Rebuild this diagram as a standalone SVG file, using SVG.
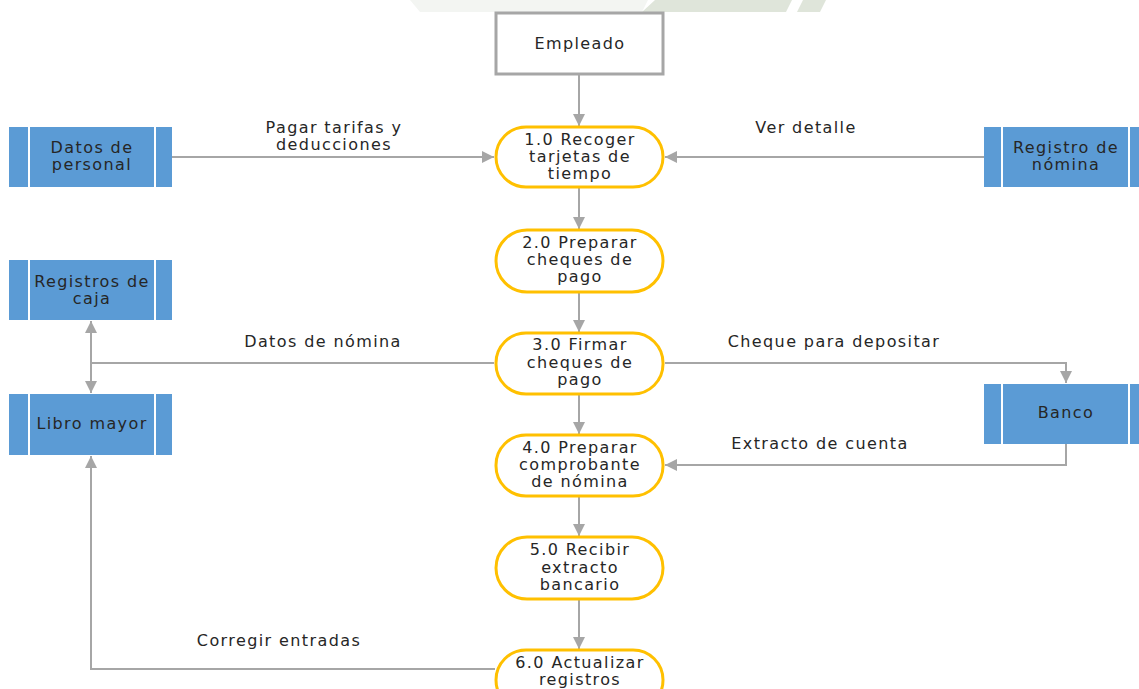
<svg xmlns="http://www.w3.org/2000/svg" width="1139" height="689" viewBox="0 0 1139 689">
<style>
text{font-family:"DejaVu Sans","Verdana",sans-serif;font-size:16px;fill:#262626;text-anchor:middle;letter-spacing:1.4px}
.ds{fill:#5B9BD5}
.sep{stroke:#ffffff;stroke-width:2}
.proc{fill:#ffffff;stroke:#FFC000;stroke-width:3}
.ext{fill:#ffffff;stroke:#A6A6A6;stroke-width:3}
.cn{fill:none;stroke:#A6A6A6;stroke-width:2}
</style>
<defs>
<marker id="ah" viewBox="0 0 10 10" refX="10" refY="5" markerWidth="12" markerHeight="12" markerUnits="userSpaceOnUse" orient="auto-start-reverse">
<path d="M0,0 L10,5 L0,10 z" fill="#A6A6A6"/>
</marker>
</defs>
<rect width="1139" height="689" fill="#ffffff"/>
<g id="watermark">
<polygon points="410,0 648,0 642,12 420,12" fill="#f3f5f2"/>
<polygon points="655,0 826,0 820,12 642,12" fill="#dfe5da"/>
<polygon points="792,0 803,0 797,12 786,12" fill="#ffffff"/>
</g>
<g id="connectors">
<line class="cn" x1="579" y1="74" x2="579" y2="126" marker-end="url(#ah)"/>
<line class="cn" x1="172" y1="157" x2="494" y2="157" marker-end="url(#ah)"/>
<line class="cn" x1="984" y1="157" x2="665" y2="157" marker-end="url(#ah)"/>
<line class="cn" x1="579" y1="188" x2="579" y2="229" marker-end="url(#ah)"/>
<line class="cn" x1="579" y1="293" x2="579" y2="332" marker-end="url(#ah)"/>
<line class="cn" x1="579" y1="395" x2="579" y2="434" marker-end="url(#ah)"/>
<line class="cn" x1="579" y1="497" x2="579" y2="536" marker-end="url(#ah)"/>
<line class="cn" x1="579" y1="600" x2="579" y2="649" marker-end="url(#ah)"/>
<line class="cn" x1="91" y1="321" x2="91" y2="393" marker-start="url(#ah)" marker-end="url(#ah)"/>
<line class="cn" x1="494" y1="363" x2="91" y2="363"/>
<polyline class="cn" points="665,363 1066,363 1066,383" marker-end="url(#ah)"/>
<polyline class="cn" points="1066,444 1066,465 665,465" marker-end="url(#ah)"/>
<polyline class="cn" points="495,669 91,669 91,456" marker-end="url(#ah)"/>
<text x="334" y="133">Pagar tarifas y</text>
<text x="334" y="150">deducciones</text>
<text x="806" y="133">Ver detalle</text>
<text x="323" y="347">Datos de nómina</text>
<text x="834" y="347">Cheque para depositar</text>
<text x="820" y="449">Extracto de cuenta</text>
<text x="279" y="646">Corregir entradas</text>
</g>
<g id="empleado">
<rect class="ext" x="496" y="13" width="167" height="61"/>
<text x="580" y="49">Empleado</text>
</g>
<g id="p1">
<rect class="proc" x="496" y="127" width="167" height="60" rx="30"/>
<text x="580" y="145">1.0 Recoger</text>
<text x="580" y="162">tarjetas de</text>
<text x="580" y="179">tiempo</text>
</g>
<g id="p2">
<rect class="proc" x="496" y="230" width="167" height="62" rx="31"/>
<text x="580" y="248">2.0 Preparar</text>
<text x="580" y="265">cheques de</text>
<text x="580" y="282">pago</text>
</g>
<g id="p3">
<rect class="proc" x="496" y="333" width="167" height="61" rx="30"/>
<text x="580" y="350">3.0 Firmar</text>
<text x="580" y="368">cheques de</text>
<text x="580" y="385">pago</text>
</g>
<g id="p4">
<rect class="proc" x="496" y="435" width="167" height="61" rx="30"/>
<text x="580" y="453">4.0 Preparar</text>
<text x="580" y="470">comprobante</text>
<text x="580" y="487">de nómina</text>
</g>
<g id="p5">
<rect class="proc" x="496" y="537" width="167" height="62" rx="31"/>
<text x="580" y="555">5.0 Recibir</text>
<text x="580" y="573">extracto</text>
<text x="580" y="590">bancario</text>
</g>
<g id="p6">
<rect class="proc" x="496" y="650" width="167" height="60" rx="30"/>
<text x="580" y="668">6.0 Actualizar</text>
<text x="580" y="685">registros</text>
</g>
<g id="datos-personal">
<rect class="ds" x="9" y="127" width="163" height="60"/>
<line class="sep" x1="29" y1="127" x2="29" y2="187"/>
<line class="sep" x1="155" y1="127" x2="155" y2="187"/>
<text x="92" y="153">Datos de</text>
<text x="92" y="170">personal</text>
</g>
<g id="registro-nomina">
<rect class="ds" x="984" y="127" width="160" height="60"/>
<line class="sep" x1="1002" y1="127" x2="1002" y2="187"/>
<line class="sep" x1="1129" y1="127" x2="1129" y2="187"/>
<text x="1066" y="153">Registro de</text>
<text x="1066" y="170">nómina</text>
</g>
<g id="registros-caja">
<rect class="ds" x="9" y="260" width="163" height="60"/>
<line class="sep" x1="29" y1="260" x2="29" y2="320"/>
<line class="sep" x1="155" y1="260" x2="155" y2="320"/>
<text x="92" y="287">Registros de</text>
<text x="92" y="304">caja</text>
</g>
<g id="libro-mayor">
<rect class="ds" x="9" y="394" width="163" height="61"/>
<line class="sep" x1="29" y1="394" x2="29" y2="455"/>
<line class="sep" x1="155" y1="394" x2="155" y2="455"/>
<text x="92" y="429">Libro mayor</text>
</g>
<g id="banco">
<rect class="ds" x="984" y="384" width="160" height="60"/>
<line class="sep" x1="1002" y1="384" x2="1002" y2="444"/>
<line class="sep" x1="1129" y1="384" x2="1129" y2="444"/>
<text x="1066" y="418">Banco</text>
</g>
</svg>
